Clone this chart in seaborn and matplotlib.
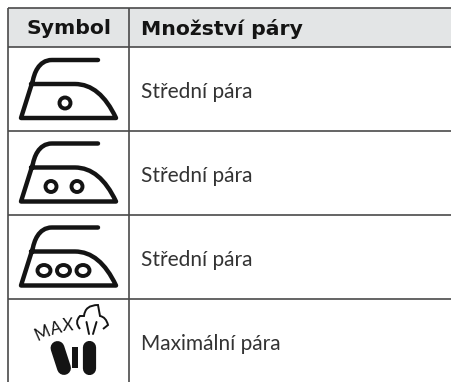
import matplotlib.pyplot as plt
import numpy as np
import seaborn as sns
from matplotlib.patches import Ellipse, PathPatch, Rectangle
from matplotlib.path import Path

# Obsah tabulky
headers = ['Symbol', 'Množství páry']
steam_labels = ['Střední pára', 'Střední pára', 'Střední pára', 'Maximální pára']
dot_counts = [1, 2, 3]

# Rozlozeni v pixelech
row_edges = [47, 130.5, 214.5, 298.5]
grid_col = '#4a4a4a'
ink = '#141414'

sns.set_theme(style='white')
plt.rcParams['font.family'] = ['Lato', 'DejaVu Sans']

fig = plt.figure(figsize=(4.52, 3.82), dpi=100)
ax = fig.add_axes([0, 0, 1, 1])
ax.set_xlim(0, 452)
ax.set_ylim(382, 0)
ax.axis('off')

# Hlavicka a mrizka
ax.add_patch(Rectangle((8, 8), 444, 39, fc='#e3e5e6', ec='none'))
ax.hlines([8], 8, 452, color=grid_col, lw=1.2)
ax.hlines(row_edges, 8, 452, color=grid_col, lw=1.2)
ax.vlines([8.5, 129.5], 8, 382, color=grid_col, lw=1.2)

ax.text(69, 29, headers[0], ha='center', va='center', family='DejaVu Sans', fontweight='bold', fontsize=14.7, color=ink)
ax.text(141, 29, headers[1], ha='left', va='center', family='DejaVu Sans', fontweight='bold', fontsize=14.7, color=ink)


def draw_iron(top, dots):
    # Obrys zehlicky
    verts = [(98, 13), (52, 13), (38, 13), (34, 28), (33, 33), (21, 71), (116, 71),
             (100, 37), (75, 37), (31, 37)]
    codes = [Path.MOVETO, Path.LINETO, Path.CURVE4, Path.CURVE4, Path.CURVE4, Path.LINETO, Path.LINETO,
             Path.CURVE3, Path.CURVE3, Path.LINETO]
    verts = [(x, y + top) for x, y in verts]
    ax.add_patch(PathPatch(Path(verts, codes), fc='none', ec=ink, lw=3.2, capstyle='round', joinstyle='round'))
    spots = {1: [65], 2: [51, 77], 3: [44, 63.5, 83]}[dots]
    w = 11 if dots < 3 else 13
    for x in spots:
        ax.add_patch(Ellipse((x, top + 56), w, 11, fc='none', ec=ink, lw=2.8))


for top, n in zip(row_edges, dot_counts):
    draw_iron(top, n)

# Ikona MAX
for ch, x, y, rot in zip('MAX', [42, 56, 68], [333.5, 328.5, 325.5], [24, 14, 4]):
    ax.text(x, y, ch, ha='center', va='center', rotation=rot, fontsize=12, color=ink)

cloud = [(80, 329), (74, 322), (80, 316), (84, 316), (85, 305), (98, 305), (100, 316),
         (106, 317), (108, 325), (103, 329)]
cloud_codes = [Path.MOVETO, Path.CURVE3, Path.CURVE3, Path.LINETO, Path.CURVE3, Path.CURVE3, Path.LINETO,
               Path.CURVE3, Path.CURVE3, Path.LINETO]
ax.add_patch(PathPatch(Path(cloud, cloud_codes), fc='none', ec=ink, lw=1.4))
ax.plot([86.5, 89], [322, 334], color=ink, lw=1.4)
ax.plot([96.5, 93], [322, 334], color=ink, lw=1.4)
ax.plot([57.5, 64], [348, 368], color=ink, lw=10, solid_capstyle='round')
ax.plot([89.5, 89.5], [347, 368], color=ink, lw=9.5, solid_capstyle='round')
ax.add_patch(Rectangle((72, 347), 6.5, 21, fc=ink, ec='none'))

# Popisky
for top, label in zip(row_edges, steam_labels):
    ax.text(141.5, top + 45, label, ha='left', va='center', fontsize=15, color='#333333')

fig.savefig('out.png', dpi=100)
